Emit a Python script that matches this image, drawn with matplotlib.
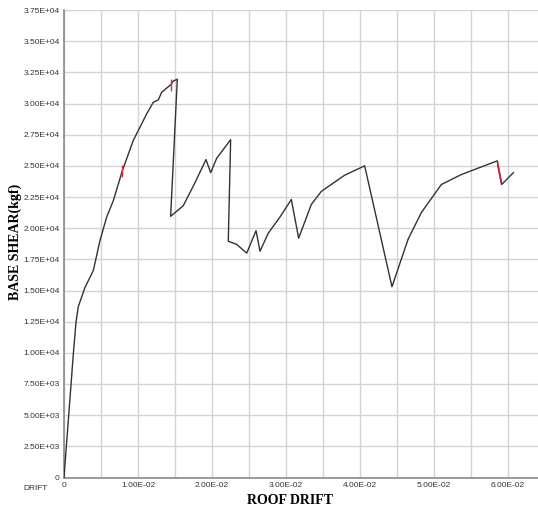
import matplotlib
matplotlib.use("Agg")
import matplotlib.pyplot as plt
import numpy as np

# Pushover curve data (roof drift vs base shear, kgf)
drift = [0, 0.00126, 0.00162, 0.00193, 0.00284, 0.00396, 0.00486, 0.00577, 0.00666,
         0.00788, 0.00937, 0.01027, 0.0112, 0.01207, 0.01275, 0.0132, 0.01442, 0.01477,
         0.01531, 0.01441, 0.01612, 0.0177, 0.01919, 0.01982, 0.02063, 0.02252, 0.0222,
         0.02333, 0.02469, 0.02595, 0.02649, 0.02761, 0.02919, 0.03072, 0.03171, 0.03342,
         0.03477, 0.03793, 0.04063, 0.04432, 0.04649, 0.04829, 0.05099, 0.05369, 0.05855,
         0.05914, 0.06072]
shear = [0, 9900, 12450, 13700, 15250, 16600, 19000, 20900, 22200,
         24600, 27050, 28100, 29200, 30100, 30300, 30900, 31500, 31800,
         31950, 20950, 21800, 23650, 25500, 24450, 25600, 27100, 18950,
         18700, 18000, 19800, 18150, 19600, 20900, 22300, 19200, 21900,
         22950, 24250, 25000, 15300, 19100, 21250, 23500, 24300, 25400,
         23500, 24450]

# hinge markers (red)
hinge_drift = [0.00788, 0.01442]
hinge_shear = [24600, 31500]
hinge_seg_drift = [0.05862, 0.05908]
hinge_seg_shear = [25100, 23700]

x_ticks = [0, 0.01, 0.02, 0.03, 0.04, 0.05, 0.06]
x_tick_labels = ["0", "1.00E-02", "2.00E-02", "3.00E-02", "4.00E-02", "5.00E-02", "6.00E-02"]
y_ticks = [0, 2500, 5000, 7500, 10000, 12500, 15000, 17500, 20000, 22500, 25000,
           27500, 30000, 32500, 35000, 37500]
y_tick_labels = ["0", "2.50E+03", "5.00E+03", "7.50E+03", "1.00E+04", "1.25E+04",
                 "1.50E+04", "1.75E+04", "2.00E+04", "2.25E+04", "2.50E+04", "2.75E+04",
                 "3.00E+04", "3.25E+04", "3.50E+04", "3.75E+04"]

W, H = 538, 512
fig = plt.figure(figsize=(W / 100, H / 100), dpi=100)
ax = fig.add_axes([64 / W, (H - 477.5) / H, (W - 64) / W, (477.5 - 10) / H])

ax.set_xlim(0, (W - 64) / 7400)
ax.set_ylim(0, 37500)

# grid every half-step in x
ax.set_xticks(np.arange(0, 0.0641, 0.005), minor=True)
ax.set_xticks(x_ticks)
ax.set_xticklabels(x_tick_labels, fontsize=6, family="Liberation Sans", color="#333333")
ax.set_yticks(y_ticks)
ax.set_yticklabels(y_tick_labels, fontsize=6, family="Liberation Sans", color="#333333")
ax.grid(True, which="both", color="#d4d4d4", linewidth=1.0)
ax.set_axisbelow(True)
ax.tick_params(which="both", length=0, pad=3)

for s in ["top", "right"]:
    ax.spines[s].set_visible(False)
for s in ["left", "bottom"]:
    ax.spines[s].set_color("#8a8a8a")
    ax.spines[s].set_linewidth(1.2)

ax.plot(drift, shear, color="#333333", linewidth=1.0, zorder=3)
ax.plot(hinge_drift, hinge_shear, linestyle="none", marker="|", markersize=9,
        markeredgecolor="#e0303a", markeredgewidth=1.0, zorder=4)
ax.plot(hinge_seg_drift, hinge_seg_shear, color="#d02040", linewidth=1.3, zorder=4)

fig.text(36 / W, (H - 489) / H, "DRIFT", fontsize=6, family="Liberation Sans",
         color="#333333", ha="center", va="center")
fig.text(290 / W, (H - 500) / H, "ROOF DRIFT", fontsize=10, family="Liberation Serif",
         fontweight="bold", ha="center", va="center")
fig.text(15 / W, (H - 242) / H, "BASE SHEAR(kgf)", fontsize=10, family="Liberation Serif",
         fontweight="bold", rotation=90, ha="center", va="center")

fig.savefig("out.png", dpi=100, facecolor="white")
